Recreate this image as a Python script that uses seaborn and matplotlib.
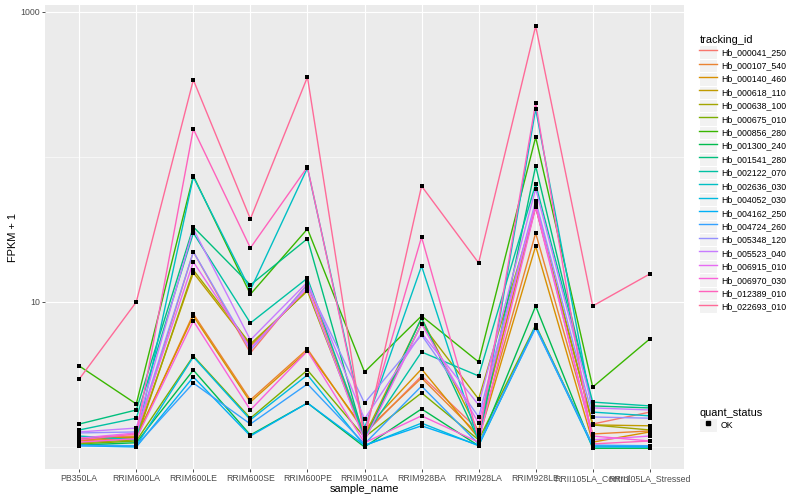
import numpy as np
import pandas as pd
import matplotlib
matplotlib.use('Agg')
import matplotlib.pyplot as plt
import seaborn as sns
from matplotlib.lines import Line2D
from matplotlib.patches import Rectangle
from matplotlib.legend_handler import HandlerLine2D

samples = ['PB350LA', 'RRIM600LA', 'RRIM600LE', 'RRIM600SE', 'RRIM600PE', 'RRIM901LA',
           'RRIM928BA', 'RRIM928LA', 'RRIM928LE', 'RRII105LA_Control', 'RRII105LA_Stressed']

# FPKM + 1 per gene
hb_000041_250 = [1.17, 1.19, 22.2, 4.45, 13.3, 1.23, 3.09, 1.31, 45.2, 1.44, 1.74]
hb_000107_540 = [1.10, 1.15, 8.27, 2.11, 4.74, 1.27, 2.99, 1.21, 29.9, 1.23, 1.29]
hb_000140_460 = [1.12, 1.17, 8.01, 2.04, 4.59, 1.31, 3.45, 1.15, 24.3, 1.08, 1.27]
hb_000618_110 = [1.14, 1.17, 15.9, 4.97, 12.1, 1.19, 7.75, 1.27, 46.7, 1.42, 1.40]
hb_000638_100 = [1.07, 1.12, 16.6, 5.13, 11.9, 1.15, 7.05, 2.14, 45.2, 1.42, 1.31]
hb_000675_010 = [1.05, 1.10, 4.24, 1.58, 3.39, 1.17, 2.36, 1.12, 6.94, 1.02, 1.02]
hb_000856_280 = [3.62, 1.98, 74.0, 11.3, 31.9, 3.29, 8.01, 3.86, 137, 2.59, 5.56]
hb_001300_240 = [1.03, 1.07, 3.39, 1.21, 2.01, 1.00, 1.83, 1.02, 9.38, 0.98, 0.98]
hb_001541_280 = [1.44, 1.80, 32.9, 13.1, 27.3, 1.12, 7.75, 1.12, 86.7, 1.92, 1.86]
hb_002122_070 = [1.31, 1.58, 29.9, 7.16, 14.6, 1.17, 4.52, 3.09, 65.0, 2.04, 1.92]
hb_002636_030 = [1.19, 1.12, 72.8, 12.1, 84.1, 1.35, 17.7, 1.10, 214, 1.74, 1.64]
hb_004052_030 = [1.03, 1.02, 4.18, 1.54, 3.14, 1.02, 1.46, 1.02, 6.72, 1.00, 1.00]
hb_004162_250 = [1.02, 1.00, 3.04, 1.19, 2.01, 1.03, 1.40, 1.03, 6.83, 1.02, 1.00]
hb_004724_260 = [1.02, 1.02, 2.76, 1.44, 2.72, 1.05, 2.63, 1.05, 6.62, 1.03, 1.02]
hb_005348_120 = [1.25, 1.27, 22.2, 4.66, 13.1, 2.01, 5.92, 1.61, 49.8, 1.61, 1.58]
hb_005523_040 = [1.27, 1.35, 31.9, 5.47, 13.7, 1.56, 6.11, 1.95, 60.4, 1.86, 1.80]
hb_006915_010 = [1.15, 1.25, 18.9, 4.81, 12.5, 1.10, 7.05, 1.46, 48.2, 1.12, 1.19]
hb_006970_030 = [1.08, 1.14, 7.40, 1.80, 4.59, 1.07, 1.64, 1.08, 45.2, 1.19, 1.10]
hb_012389_010 = [1.12, 1.23, 156, 23.6, 85.3, 1.27, 28.0, 1.15, 236, 1.05, 1.10]
hb_022693_010 = [2.94, 10.0, 340, 37.4, 356, 1.12, 63.0, 18.6, 800, 9.38, 15.6]

tracking_ids = ['Hb_000041_250', 'Hb_000107_540', 'Hb_000140_460', 'Hb_000618_110', 'Hb_000638_100',
                'Hb_000675_010', 'Hb_000856_280', 'Hb_001300_240', 'Hb_001541_280', 'Hb_002122_070',
                'Hb_002636_030', 'Hb_004052_030', 'Hb_004162_250', 'Hb_004724_260', 'Hb_005348_120',
                'Hb_005523_040', 'Hb_006915_010', 'Hb_006970_030', 'Hb_012389_010', 'Hb_022693_010']
series = [hb_000041_250, hb_000107_540, hb_000140_460, hb_000618_110, hb_000638_100,
          hb_000675_010, hb_000856_280, hb_001300_240, hb_001541_280, hb_002122_070,
          hb_002636_030, hb_004052_030, hb_004162_250, hb_004724_260, hb_005348_120,
          hb_005523_040, hb_006915_010, hb_006970_030, hb_012389_010, hb_022693_010]

rows = []
for tid, vals in zip(tracking_ids, series):
    for s, v in zip(samples, vals):
        rows.append({'tracking_id': tid, 'sample_name': s, 'fpkm1': v, 'quant_status': 'OK'})
df = pd.DataFrame(rows)
df['x'] = df['sample_name'].map({s: i for i, s in enumerate(samples)})


# ggplot2 hue palette (hcl, c=100, l=65)
def hcl(h, c=100.0, l=65.0):
    hr = np.radians(h)
    u, v = c * np.cos(hr), c * np.sin(hr)
    xn, yn, zn = 95.047, 100.0, 108.883
    un = 4 * xn / (xn + 15 * yn + 3 * zn)
    vn = 9 * yn / (xn + 15 * yn + 3 * zn)
    y = yn * ((l + 16) / 116) ** 3
    up = u / (13 * l) + un
    vp = v / (13 * l) + vn
    x = y * 9 * up / (4 * vp)
    z = y * (12 - 3 * up - 20 * vp) / (4 * vp)
    xyz = np.array([x, y, z]) / 100
    m = np.array([[3.2404542, -1.5371385, -0.4985314],
                  [-0.9692660, 1.8760108, 0.0415560],
                  [0.0556434, -0.2040259, 1.0572252]])
    rgb = m @ xyz
    rgb = np.where(rgb <= 0.0031308, 12.92 * rgb, 1.055 * np.clip(rgb, 0, None) ** (1 / 2.4) - 0.055)
    return tuple(np.clip(rgb, 0, 1))


n = len(tracking_ids)
hues = np.linspace(15, 375, n + 1)[:-1]
palette = {tid: hcl(h) for tid, h in zip(tracking_ids, hues)}

plt.rcParams['font.family'] = ['Liberation Sans', 'DejaVu Sans']
fig = plt.figure(figsize=(8, 5), dpi=100)
ax = fig.add_axes([45 / 800, 1 - 469 / 500, (684 - 45) / 800, (469 - 5) / 500])
ax.set_facecolor('#EBEBEB')

sns.lineplot(data=df, x='x', y='fpkm1', hue='tracking_id', palette=palette, sort=False,
             linewidth=1.0, legend=False, ax=ax, zorder=3)
ax.scatter(df['x'], df['fpkm1'], marker='s', s=8, color='black', zorder=4, linewidths=0)

ax.set_yscale('log')
ax.set_ylim(0.705, 1117)
ax.set_xlim(-0.6, len(samples) - 0.4)
ax.set_xticks(range(len(samples)))
ax.set_xticklabels(samples)
ax.set_yticks([10, 1000])
ax.set_yticklabels(['10', '1000'])
ax.set_yticks([1, 100], minor=True)
ax.yaxis.set_minor_formatter(matplotlib.ticker.NullFormatter())
ax.tick_params(axis='both', which='major', labelsize=6.3, labelcolor='#4D4D4D', color='#333333',
               length=2, width=0.6, pad=1.5)
ax.tick_params(axis='y', which='minor', length=0)
ax.grid(True, which='major', color='white', linewidth=0.8)
ax.grid(True, which='minor', axis='y', color='white', linewidth=0.4)
ax.set_axisbelow(True)
for sp in ax.spines.values():
    sp.set_visible(False)
ax.set_xlabel('sample_name', fontsize=7.9, labelpad=1)
ax.set_ylabel('FPKM + 1', fontsize=7.9, labelpad=2)


class KeyHandler(HandlerLine2D):
    def create_artists(self, legend, orig_handle, xdescent, ydescent, width, height, fontsize, trans):
        arts = super().create_artists(legend, orig_handle, xdescent, ydescent, width, height, fontsize, trans)
        bg = Rectangle((-xdescent, -ydescent), width, height, facecolor='#F2F2F2',
                       edgecolor='white', linewidth=0.8, transform=trans)
        return [bg] + list(arts)


h1 = [Line2D([0], [0], color=palette[t], lw=1.0) for t in tracking_ids]
leg1 = fig.legend(h1, tracking_ids, title='tracking_id', loc='upper left',
                  bbox_to_anchor=(695 / 800, 1 - 31 / 500), frameon=False, fontsize=6.3,
                  title_fontsize=7.9, handlelength=1.98, handleheight=1.98, labelspacing=0,
                  handletextpad=0.5, borderpad=0, alignment='left',
                  handler_map={Line2D: KeyHandler()})
h2 = [Line2D([0], [0], color='black', marker='s', markersize=2.4, lw=0)]
leg2 = fig.legend(h2, ['OK'], title='quant_status', loc='upper left',
                  bbox_to_anchor=(695 / 800, 1 - 404 / 500), frameon=False, fontsize=6.3,
                  title_fontsize=7.9, handlelength=1.98, handleheight=1.98, labelspacing=0,
                  handletextpad=0.5, borderpad=0, alignment='left',
                  handler_map={Line2D: KeyHandler(numpoints=1)})

fig.savefig('out.png', dpi=100)
